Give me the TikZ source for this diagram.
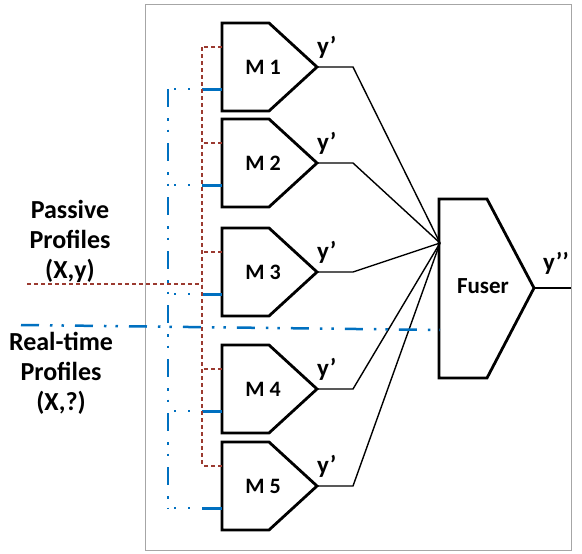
\documentclass[tikz,border=0pt]{standalone}
\usepackage{fontspec}
\setmainfont{Carlito}
\definecolor{brn}{RGB}{155,58,48}
\definecolor{blu}{RGB}{0,112,192}
\tikzset{
  blk/.style={line width=2.8pt, line join=miter},
  wire/.style={line width=1.4pt},
  frame/.style={draw=black!35, line width=0.7pt},
  pas/.style={brn, line width=2.3pt, dash pattern=on 4pt off 3pt},
  rt/.style={blu, line width=2.5pt, dash pattern=on 18pt off 11pt on 2.5pt off 9pt on 2.5pt off 11pt},
  rtdots/.style={blu, line width=2.3pt, dash pattern=on 2pt off 12pt, dash phase=8pt},
  stub/.style={blu, line width=3pt},
  txt/.style={font=\bfseries\fontsize{22}{24}\selectfont, inner sep=0pt},
  ytxt/.style={font=\bfseries\fontsize{25}{26}\selectfont, inner sep=0pt},
  ptxt/.style={font=\bfseries\fontsize{26}{30}\selectfont, inner sep=0pt, align=center}
}
\begin{document}
\begin{tikzpicture}[x=1pt, y=-1pt]
    \useasboundingbox (0,0) rectangle (582,554);
    \draw[frame] (145,4) rectangle (571,550);

    \coordinate (pbus) at (202,0);
    \coordinate (rbus) at (168,0);
    \coordinate (fin) at (440,243);
    \coordinate (fin2) at (440,330);

    \foreach \i/\t in {1/23,2/119,3/228,4/345,5/442}{
        \draw[blk] (222,\t) -- (269,\t) -- (317,\t+44) -- (269,\t+88) -- (222,\t+88) -- cycle;
        \node[txt] (m\i) at (263,\t+44) {M \i};
        \coordinate (tip\i) at (317,\t+44);
        \coordinate (bend\i) at (353,\t+44);
        \coordinate (pin\i) at (222,\t+24);
        \coordinate (rin\i) at (222,\t+66);
        \node[ytxt, anchor=south west] (yp\i) at ([shift={(0,-8)}]tip\i) {y’};
        \draw[wire] (tip\i) -- (bend\i) -- (fin);
        \draw[pas] (pin\i) -- (pin\i -| pbus);
        \draw[stub] (rin\i) -- (rin\i -| pbus);
        \draw[rtdots] (rin\i -| rbus) -- (rin\i -| pbus);
    }

    \draw[blk] (439,199) -- (487,199) -- (534,288) -- (487,378) -- (439,378) -- cycle;
    \node[txt, font=\bfseries\fontsize{23}{26}\selectfont] (fuser) at (483,286) {Fuser};
    \coordinate (fout) at (534,288);
    \coordinate (yend) at (571,288);
    \draw[wire, line width=2pt] (fout) -- (yend);
    \node[ytxt] (ypp) at (556,263) {y’’};

    \node[ptxt] (passive) at (70,241) {Passive\\Profiles\\(X,y)};
    \node[ptxt] (realtime) at (61,373) {Real-time\\Profiles\\(X,?)};

    \coordinate (pstart) at (27,284);
    \coordinate (rstart) at (21,325);
    \draw[pas] (pin1 -| pbus) -- (pin5 -| pbus);
    \draw[pas] (pstart) -- (pstart -| pbus);
    \draw[rt] (rin1 -| rbus) -- (rin5 -| rbus);
    \draw[rt] (rstart) -- (fin2);
\end{tikzpicture}
\end{document}
